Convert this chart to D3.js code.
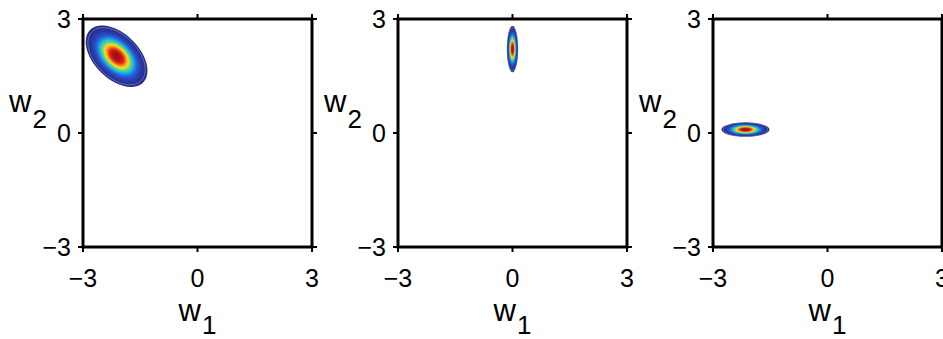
<!DOCTYPE html>
<html>
<head>
<meta charset="utf-8">
<script src="https://cdn.jsdelivr.net/npm/d3@7"></script>
<style>
  body { margin: 0; background: #fff; }
  svg { display: block; }
  text { font-family: "Liberation Sans", Arial, sans-serif; fill: #000; }
</style>
</head>
<body>
<svg id="chart" width="943" height="339"></svg>
<script>
// axis range and ticks (same for all three panels)
var domain = [-3, 3];
var tickValues = [-3, 0, 3];
var xLabels = ['w', '1'];
var yLabels = ['w', '2'];

// gaussian blob per panel: mean and covariance
var meanX = [-2.12, 0.0, -2.15];
var meanY = [2.02, 2.21, 0.09];
var varX = [0.109, 0.0036, 0.066];
var varY = [0.109, 0.062, 0.006];
var covXY = [-0.051, 0, 0];

// jet-like colours, outer (low) to inner (high), and the density level where each sits
var jetStops = ['#262c88', '#2a3fae', '#2a5fd6', '#1f95e6', '#18c6dc', '#6ad27a', '#f2e21c', '#f79a1f', '#e5261d', '#8a0f12'];
var jetLevels = [0.05, 0.15, 0.26, 0.35, 0.42, 0.52, 0.63, 0.73, 0.84, 1.0];

var svg = d3.select('#chart');
var panelLeft = [83, 398, 713];
var panelTop = 19;
var size = { w: 229, h: 228 };
var n = 300; // grid resolution

var color = d3.scaleLinear().domain(jetLevels).range(jetStops);

var thresholds = d3.range(0.05, 1.0, 0.025);

function minus(v) {
  return v < 0 ? '\u2212' + Math.abs(v) : String(v);
}

panelLeft.forEach(function(left, p) {
  var x = d3.scaleLinear().domain(domain).range([left, left + size.w]);
  var y = d3.scaleLinear().domain(domain).range([panelTop + size.h, panelTop]);
  var g = svg.append('g');

  //build density grid
  var det = varX[p] * varY[p] - covXY[p] * covXY[p];
  var ixx = varY[p] / det, iyy = varX[p] / det, ixy = -covXY[p] / det;
  var values = new Array(n * n);
  for (var j = 0; j < n; j++) {
    var wy = domain[1] - (j + 0.5) * 6 / n;
    for (var i = 0; i < n; i++) {
      var wx = domain[0] + (i + 0.5) * 6 / n;
      var dx = wx - meanX[p], dy = wy - meanY[p];
      var q = ixx * dx * dx + 2 * ixy * dx * dy + iyy * dy * dy;
      values[j * n + i] = Math.exp(-q / 2);
    }
  }

  var contours = d3.contours().size([n, n]).thresholds(thresholds)(values);

  var proj = d3.geoTransform({
    point: function(px, py) {
      this.stream.point(x(domain[0] + px * 6 / n), y(domain[1] - py * 6 / n));
    }
  });
  var path = d3.geoPath(proj);

  g.append('clipPath').attr('id', 'clip' + p)
    .append('rect')
    .attr('x', left).attr('y', panelTop)
    .attr('width', size.w).attr('height', size.h);

  g.append('g')
    .attr('clip-path', 'url(#clip' + p + ')')
    .selectAll('path')
    .data(contours)
    .enter().append('path')
    .attr('d', path)
    .attr('fill', function(d) { return color(d.value); })
    .attr('stroke', function(d, k) { return k === 1 ? '#fff' : 'none'; })
    .attr('stroke-width', 0.5)
    .attr('stroke-opacity', 0.6);

  //frame
  g.append('rect')
    .attr('x', left).attr('y', panelTop)
    .attr('width', size.w).attr('height', size.h)
    .attr('fill', 'none').attr('stroke', '#000').attr('stroke-width', 3);

  //outward ticks on all four sides
  var tl = 5;
  tickValues.forEach(function(t) {
    g.append('line').attr('x1', x(t)).attr('x2', x(t))
      .attr('y1', panelTop + size.h).attr('y2', panelTop + size.h + tl)
      .attr('stroke', '#000').attr('stroke-width', 2);
    g.append('line').attr('x1', x(t)).attr('x2', x(t))
      .attr('y1', panelTop).attr('y2', panelTop - tl)
      .attr('stroke', '#000').attr('stroke-width', 2);
    g.append('line').attr('y1', y(t)).attr('y2', y(t))
      .attr('x1', left).attr('x2', left - tl)
      .attr('stroke', '#000').attr('stroke-width', 2);
    g.append('line').attr('y1', y(t)).attr('y2', y(t))
      .attr('x1', left + size.w).attr('x2', left + size.w + tl)
      .attr('stroke', '#000').attr('stroke-width', 2);
  });

  //tick labels
  g.selectAll('.xt').data(tickValues).enter().append('text')
    .attr('x', function(d) { return x(d); })
    .attr('y', panelTop + size.h + 40)
    .attr('text-anchor', 'middle')
    .attr('font-size', 25)
    .text(minus);

  g.selectAll('.yt').data(tickValues).enter().append('text')
    .attr('x', left - 12)
    .attr('y', function(d) { return y(d) + 9; })
    .attr('text-anchor', 'end')
    .attr('font-size', 25)
    .text(minus);

  //axis labels
  var xl = g.append('text')
    .attr('x', left + size.w / 2)
    .attr('y', panelTop + size.h + 74)
    .attr('text-anchor', 'middle')
    .attr('font-size', 31);
  xl.append('tspan').text(xLabels[0]);
  xl.append('tspan').attr('dy', 13).attr('dx', 1).attr('font-size', 26).text(xLabels[1]);

  var yl = g.append('text')
    .attr('x', left - 74)
    .attr('y', 112)
    .attr('font-size', 31);
  yl.append('tspan').text(yLabels[0]);
  yl.append('tspan').attr('dy', 16).attr('dx', 1).attr('font-size', 26).text(yLabels[1]);
});
</script>
</body>
</html>
